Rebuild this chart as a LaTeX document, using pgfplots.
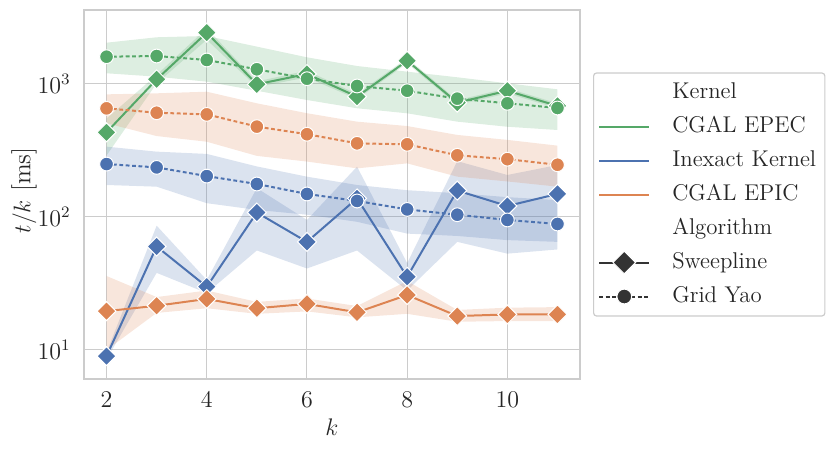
\documentclass[border=0pt]{standalone}
\usepackage{fontspec}
\usepackage{pgfplots}
\pgfplotsset{compat=1.18}
\usepgfplotslibrary{fillbetween}
\definecolor{sgreen}{HTML}{55A868}
\definecolor{sblue}{HTML}{4C72B0}
\definecolor{sorange}{HTML}{DD8452}
\definecolor{sdark}{HTML}{333333}
\definecolor{sgrid}{HTML}{CCCCCC}
\definecolor{stext}{HTML}{262626}

% CGAL EPEC, Sweepline
\pgfplotstableread{
x y lo hi
2 433 290 550
3 1084 1010 1170
4 2432 2150 2620
5 994 950 1045
6 1189 1120 1260
7 803 770 840
8 1497 1430 1565
9 724 695 755
10 890 850 930
11 684 655 715
}\epecsweep
% CGAL EPEC, Grid Yao
\pgfplotstableread{
x y lo hi
2 1604 1204 2044
3 1623 1135 2245
4 1515 1041 2296
5 1290 890 1910
6 1096 758 1587
7 966 657 1365
8 890 602 1238
9 776 521 1123
10 716 477 1012
11 660 451 912
}\epecgrid
% Inexact, Sweepline
\pgfplotstableread{
x y lo hi
2 9.0 8.5 9.6
3 60 38 86
4 29.9 26.8 33.6
5 108 56 165
6 65 41 95
7 138 56 239
8 35.5 28 45
9 158 65 263
10 121 53 207
11 149 57 246
}\inexsweep
% Inexact, Grid Yao
\pgfplotstableread{
x y lo hi
2 250 174 338
3 236 169 310
4 203 127 298
5 177 113 240
6 149 104 201
7 132 92 174
8 114 75 159
9 104 72 151
10 95 67 141
11 88.6 65 134
}\inexgrid
% CGAL EPIC, Sweepline
\pgfplotstableread{
x y lo hi
2 19.6 10 36
3 21.5 19 25
4 24.2 20.6 28
5 20.6 18.7 23
6 22.2 19.5 24.4
7 19.2 17.6 21.4
8 25.9 18.7 33
9 18.0 16.3 20
10 18.5 16.5 20.8
11 18.5 16.5 21
}\epicsweep
% CGAL EPIC, Grid Yao
\pgfplotstableread{
x y lo hi
2 656 506 836
3 608 406 851
4 591 368 875
5 478 288 716
6 419 261 603
7 358 232 521
8 352 253 483
9 291 201 414
10 272 185 380
11 247 169 344
}\epicgrid

\begin{document}
\begin{tikzpicture}
\path (0,0) rectangle (417pt,225.5pt);
\begin{axis}[
  at={(42pt,36pt)}, anchor=south west,
  scale only axis, width=248pt, height=184.5pt,
  ymode=log, xmin=1.55, xmax=11.45, ymin=6.05, ymax=3600,
  xtick={2,4,6,8,10}, ytick={10,100,1000},
  grid=major, major grid style={sgrid, line width=0.5pt},
  axis line style={sgrid, line width=0.65pt},
  tick style={draw=none}, major tick length=0pt, minor tick length=0pt,
  ticklabel style={font=\fontsize{11.6}{14}\selectfont, text=stext},
  xticklabel style={yshift=-3.1pt},
  yticklabel style={xshift=-3.1pt},
  xlabel={$k$}, ylabel={$t/k$ [ms]},
  every axis x label/.style={at={(axis description cs:0.5,0)}, anchor=base, yshift=-28pt, font=\fontsize{12.7}{15}\selectfont, text=stext},
  every axis y label/.style={at={(axis description cs:0,0.5)}, xshift=-30pt, yshift=2pt, rotate=90, anchor=center, font=\fontsize{12.7}{15}\selectfont, text=stext},
  legend image code/.code={\draw[sharp corners, mark repeat=2, mark phase=2, #1] plot coordinates {(0pt,0pt) (12.5pt,0pt) (25pt,0pt)};},
  legend style={
    at={(1,0.5)}, anchor=west, xshift=6.5pt,
    draw=sgrid, fill=white, rounded corners=1.5pt, line width=0.6pt,
    font=\fontsize{11.4}{13.5}\selectfont, text=stext,
    cells={anchor=west},
    inner xsep=2.35pt, inner ysep=2.5pt,
    nodes={inner sep=2pt, text height=8pt, text depth=2.5pt},
    row sep=2.5pt, column sep=9pt,
  },
  sweep/.style={line width=1pt, mark=square*, mark size=3.35pt, mark options={solid, rotate=45, fill=#1, draw=white, line width=0.5pt}},
  grid yao/.style={line width=1pt, dash pattern=on 1.9pt off 1.3pt, mark=*, mark size=3.45pt, mark options={solid, fill=#1, draw=white, line width=0.5pt}},
]
% ---- bands ----
\addplot[name path=a1, draw=none, forget plot] table[x=x, y=hi] {\epecsweep};
\addplot[name path=b1, draw=none, forget plot] table[x=x, y=lo] {\epecsweep};
\addplot[fill=sgreen, fill opacity=0.2, draw=none, forget plot] fill between[of=a1 and b1];
\addplot[name path=a2, draw=none, forget plot] table[x=x, y=hi] {\epecgrid};
\addplot[name path=b2, draw=none, forget plot] table[x=x, y=lo] {\epecgrid};
\addplot[fill=sgreen, fill opacity=0.2, draw=none, forget plot] fill between[of=a2 and b2];
\addplot[name path=a3, draw=none, forget plot] table[x=x, y=hi] {\inexsweep};
\addplot[name path=b3, draw=none, forget plot] table[x=x, y=lo] {\inexsweep};
\addplot[fill=sblue, fill opacity=0.2, draw=none, forget plot] fill between[of=a3 and b3];
\addplot[name path=a4, draw=none, forget plot] table[x=x, y=hi] {\inexgrid};
\addplot[name path=b4, draw=none, forget plot] table[x=x, y=lo] {\inexgrid};
\addplot[fill=sblue, fill opacity=0.2, draw=none, forget plot] fill between[of=a4 and b4];
\addplot[name path=a5, draw=none, forget plot] table[x=x, y=hi] {\epicsweep};
\addplot[name path=b5, draw=none, forget plot] table[x=x, y=lo] {\epicsweep};
\addplot[fill=sorange, fill opacity=0.2, draw=none, forget plot] fill between[of=a5 and b5];
\addplot[name path=a6, draw=none, forget plot] table[x=x, y=hi] {\epicgrid};
\addplot[name path=b6, draw=none, forget plot] table[x=x, y=lo] {\epicgrid};
\addplot[fill=sorange, fill opacity=0.2, draw=none, forget plot] fill between[of=a6 and b6];
% ---- lines ----
\addplot[sgreen, sweep=sgreen, forget plot] table[x=x, y=y] {\epecsweep};
\addplot[sgreen, grid yao=sgreen, forget plot] table[x=x, y=y] {\epecgrid};
\addplot[sblue, sweep=sblue, forget plot] table[x=x, y=y] {\inexsweep};
\addplot[sblue, grid yao=sblue, forget plot] table[x=x, y=y] {\inexgrid};
\addplot[sorange, sweep=sorange, forget plot] table[x=x, y=y] {\epicsweep};
\addplot[sorange, grid yao=sorange, forget plot] table[x=x, y=y] {\epicgrid};
% ---- legend ----
\addlegendimage{empty legend}\addlegendentry{Kernel}
\addlegendimage{sgreen, line width=1pt}\addlegendentry{CGAL EPEC}
\addlegendimage{sblue, line width=1pt}\addlegendentry{Inexact Kernel}
\addlegendimage{sorange, line width=1pt}\addlegendentry{CGAL EPIC}
\addlegendimage{empty legend}\addlegendentry{Algorithm}
\addlegendimage{sdark, line width=1pt, mark=square*, mark size=4pt, mark options={solid, rotate=45, fill=sdark, draw=white, line width=0.5pt}}\addlegendentry{Sweepline}
\addlegendimage{sdark, line width=1pt, dash pattern=on 1.9pt off 1.3pt, mark=*, mark size=3.7pt, mark options={solid, fill=sdark, draw=white, line width=0.5pt}}\addlegendentry{Grid Yao}
\end{axis}
\end{tikzpicture}
\end{document}
